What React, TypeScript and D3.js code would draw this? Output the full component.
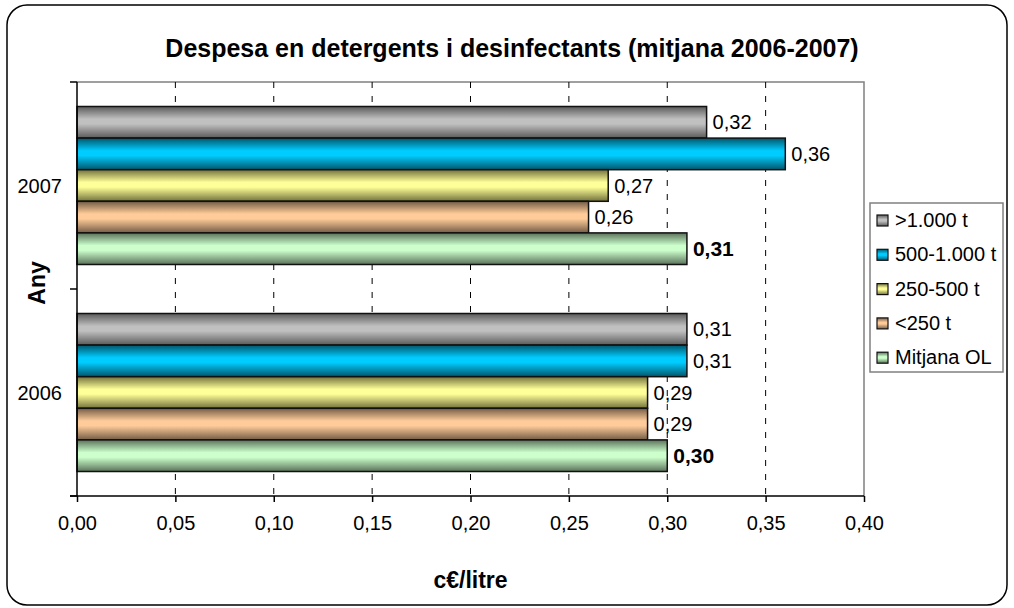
import { useEffect, useRef } from 'react';
import * as d3 from 'd3';

const years = ['2007', '2006'];
const seriesNames = ['>1.000 t', '500-1.000 t', '250-500 t', '<250 t', 'Mitjana OL'];
const values2007 = [0.32, 0.36, 0.27, 0.26, 0.31];
const values2006 = [0.31, 0.31, 0.29, 0.29, 0.30];
const xTicks = [0, 0.05, 0.1, 0.15, 0.2, 0.25, 0.3, 0.35, 0.4];

// light (middle) and dark (edge) tone of each series
const lightColors = ['#c0c0c0', '#00ccff', '#ffff99', '#ffcc99', '#ccffcc'];
const darkColors = ['#5a5a5a', '#00566b', '#72723c', '#735c46', '#5a725a'];

const FONT = "'Liberation Sans', Arial, sans-serif";

const App: React.FC = () => {
    const svgRef = useRef<SVGSVGElement>(null);

    useEffect(() => {
        if (!svgRef.current) return;
        const svg = d3.select(svgRef.current);
        svg.selectAll('*').remove();

        const W = 1014;
        const H = 608;
        const plot = { left: 77, right: 864, top: 82, bottom: 496 };

        const defs = svg.append('defs');
        seriesNames.forEach((_, i) => {
            const grad = defs.append('linearGradient')
                .attr('id', `grad${i}`)
                .attr('x1', 0).attr('y1', 0).attr('x2', 0).attr('y2', 1);
            grad.append('stop').attr('offset', '0%').attr('stop-color', darkColors[i]);
            grad.append('stop').attr('offset', '40%').attr('stop-color', lightColors[i]);
            grad.append('stop').attr('offset', '55%').attr('stop-color', lightColors[i]);
            grad.append('stop').attr('offset', '100%').attr('stop-color', darkColors[i]);
        });

        // chart frame
        svg.append('rect')
            .attr('x', 7).attr('y', 5)
            .attr('width', W - 14).attr('height', H - 8)
            .attr('rx', 20).attr('ry', 20)
            .attr('fill', 'white')
            .attr('stroke', 'black')
            .attr('stroke-width', 1.5);

        // title
        svg.append('text')
            .attr('x', 512).attr('y', 57)
            .attr('text-anchor', 'middle')
            .style('font-family', FONT)
            .style('font-size', '25px')
            .style('font-weight', 'bold')
            .text('Despesa en detergents i desinfectants (mitjana 2006-2007)');

        const x = d3.scaleLinear().domain([0, 0.4]).range([plot.left, plot.right]);
        const y0 = d3.scaleBand<string>().domain(years).range([plot.top, plot.bottom]).padding(0);
        const y1 = d3.scaleBand<string>().domain(seriesNames)
            .range([0, y0.bandwidth()])
            .paddingInner(0)
            .paddingOuter(0.775);

        // plot border (top/right gray)
        svg.append('path')
            .attr('d', `M${plot.left},${plot.top}H${plot.right}V${plot.bottom}`)
            .attr('fill', 'none')
            .attr('stroke', '#808080')
            .attr('stroke-width', 1.5);

        // dashed grid lines
        svg.append('g')
            .selectAll('line')
            .data(xTicks.slice(1, -1))
            .join('line')
            .attr('x1', d => x(d)).attr('x2', d => x(d))
            .attr('y1', plot.top).attr('y2', plot.bottom)
            .attr('stroke', '#000')
            .attr('stroke-width', 1)
            .attr('stroke-dasharray', '6,8');

        // bars
        const data = [values2007, values2006];
        years.forEach((year, yi) => {
            const g = svg.append('g').attr('transform', `translate(0,${y0(year)})`);
            seriesNames.forEach((name, si) => {
                const v = data[yi][si];
                const by = y1(name) as number;
                const bh = y1.bandwidth();
                g.append('rect')
                    .attr('x', x(0))
                    .attr('y', by)
                    .attr('width', x(v) - x(0))
                    .attr('height', bh)
                    .attr('fill', `url(#grad${si})`)
                    .attr('stroke', '#111')
                    .attr('stroke-width', 1.5);
                const bold = si === seriesNames.length - 1;
                g.append('text')
                    .attr('x', x(v) + 6)
                    .attr('y', by + bh / 2)
                    .attr('dy', '0.35em')
                    .style('font-family', FONT)
                    .style('font-size', bold ? '21px' : '20px')
                    .style('font-weight', bold ? 'bold' : 'normal')
                    .text(d3.format('.2f')(v).replace('.', ','));
            });
        });

        // x axis
        const xAxis = svg.append('g')
            .attr('transform', `translate(0,${plot.bottom})`)
            .call(d3.axisBottom(x).tickValues(xTicks).tickSize(6).tickPadding(14)
                .tickFormat(d => d3.format('.2f')(d as number).replace('.', ',')));
        xAxis.select('.domain').remove();
        xAxis.append('line')
            .attr('x1', plot.left - 7).attr('x2', plot.right)
            .attr('stroke', '#000').attr('stroke-width', 1.5);
        xAxis.selectAll('.tick line').attr('stroke', '#000').attr('stroke-width', 1.5);
        xAxis.selectAll('text')
            .attr('fill', '#000')
            .style('font-family', FONT)
            .style('font-size', '20px');

        // y axis
        const yAxis = svg.append('g').attr('transform', `translate(${plot.left},0)`);
        yAxis.append('line')
            .attr('y1', plot.top).attr('y2', plot.bottom)
            .attr('stroke', '#000').attr('stroke-width', 1.5);
        const yTickPos = [plot.top, ...years.map(yy => (y0(yy) as number) + y0.bandwidth())];
        yAxis.selectAll('line.tk')
            .data(yTickPos)
            .join('line')
            .attr('class', 'tk')
            .attr('x1', -7).attr('x2', 0)
            .attr('y1', d => d).attr('y2', d => d)
            .attr('stroke', '#000').attr('stroke-width', 1.5);
        yAxis.selectAll('text')
            .data(years)
            .join('text')
            .attr('x', -15)
            .attr('y', d => (y0(d) as number) + y0.bandwidth() / 2)
            .attr('dy', '0.35em')
            .attr('text-anchor', 'end')
            .style('font-family', FONT)
            .style('font-size', '20px')
            .text(d => d);

        // axis titles
        svg.append('text')
            .attr('transform', `translate(45,${(plot.top + plot.bottom) / 2 - 6}) rotate(-90)`)
            .attr('text-anchor', 'middle')
            .style('font-family', FONT)
            .style('font-size', '23px')
            .style('font-weight', 'bold')
            .text('Any');

        svg.append('text')
            .attr('x', (plot.left + plot.right) / 2)
            .attr('y', 588)
            .attr('text-anchor', 'middle')
            .style('font-family', FONT)
            .style('font-size', '23px')
            .style('font-weight', 'bold')
            .text('c€/litre');

        // legend
        const legend = svg.append('g');
        legend.append('rect')
            .attr('x', 870).attr('y', 203)
            .attr('width', 133).attr('height', 169)
            .attr('fill', 'white')
            .attr('stroke', '#808080')
            .attr('stroke-width', 1.5);
        seriesNames.forEach((name, i) => {
            const cy = 220 + i * 34.3;
            legend.append('rect')
                .attr('x', 877).attr('y', cy - 5)
                .attr('width', 11).attr('height', 11)
                .attr('fill', `url(#grad${i})`)
                .attr('stroke', '#111')
                .attr('stroke-width', 1.2);
            legend.append('text')
                .attr('x', 895).attr('y', cy)
                .attr('dy', '0.35em')
                .style('font-family', FONT)
                .style('font-size', '20px')
                .text(name);
        });
    }, []);

    return (
        <svg ref={svgRef} width={1014} height={608}
            style={{ position: 'absolute', left: 0, top: 0, display: 'block' }} />
    );
};

export default App;
